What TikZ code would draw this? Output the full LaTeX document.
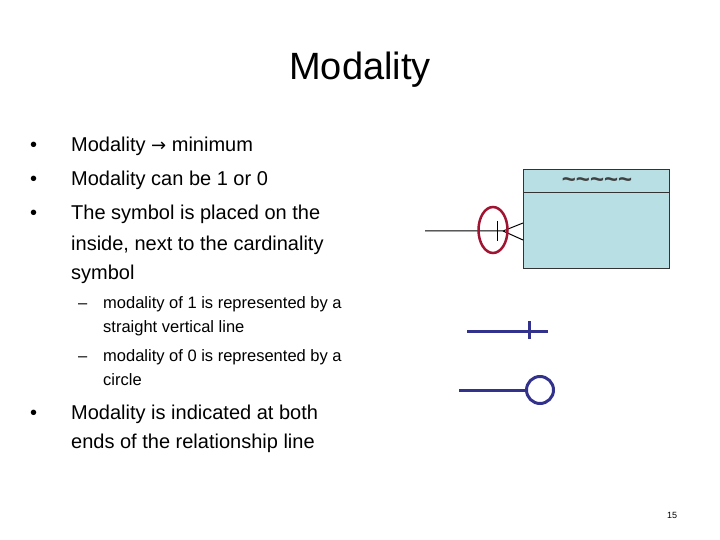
\documentclass[tikz,border=0pt]{standalone}
\usepackage{fontspec}
\setmainfont{Liberation Sans}
\newfontfamily\dejavu{DejaVu Sans}
\usetikzlibrary{shapes.geometric}
\begin{document}
\begin{tikzpicture}[x=1pt,y=-1pt,
  txt/.style={anchor=base west,inner sep=0pt,font=\fontsize{20}{24}\selectfont},
  sub/.style={anchor=base west,inner sep=0pt,font=\fontsize{16.5}{20}\selectfont}]
\useasboundingbox (0,0) rectangle (720,540);
\definecolor{boxfill}{RGB}{184,223,228}
\definecolor{ovalred}{RGB}{160,20,50}
\definecolor{symblue}{RGB}{50,50,140}
\node[anchor=base,inner sep=0pt,font=\fontsize{38}{42}\selectfont] (title) at (360,80) {Modality};
\foreach \y/\t [count=\i] in {152/{Modality {\dejavu\fontsize{18}{20}\selectfont →} minimum},186/{Modality can be 1 or 0},220/{The symbol is placed on the},419/{Modality is indicated at both}}
  {\node[txt] (d\i) at (30,\y) {•};
   \node[txt] (b\i) at (71,\y) {\t};}
\node[txt] (b5) at (71,250) {inside, next to the cardinality};
\node[txt] (b6) at (71,279) {symbol};
\node[txt] (b7) at (71,448) {ends of the relationship line};
\node[sub] (s1a) at (78,308) {–};
\node[sub] (s1) at (103,308) {modality of 1 is represented by a};
\node[sub] (s1b) at (103,332) {straight vertical line};
\node[sub] (s2a) at (78,361) {–};
\node[sub] (s2) at (103,361) {modality of 0 is represented by a};
\node[sub] (s2b) at (103,385) {circle};
\node[anchor=base,inner sep=0pt,font=\fontsize{9}{10}\selectfont] (pg) at (672,518) {15};
% entity box
\node[draw=black!80,fill=boxfill,line width=1pt,minimum width=146pt,minimum height=98pt,inner sep=0pt] (ent) at (596,219) {};
\draw[black!80,line width=1pt] (523,193) -- (669,193);
\node[font=\bfseries\fontsize{24}{26}\selectfont,inner sep=0pt,black!75] (hdr) at (597,183) {\textasciitilde\textasciitilde\textasciitilde\textasciitilde\textasciitilde};
% relationship
\coordinate (rl) at (425,231);
\coordinate (cf) at (503,231);
\coordinate (cf1) at (523,223);
\coordinate (cf2) at (523,240);
\draw[line width=1pt] (rl) -- (cf) -- (cf1) (cf) -- (cf2);
\draw[line width=1pt] (497,221) -- (497,241);
\node[draw=ovalred,line width=2.5pt,ellipse,minimum width=29pt,minimum height=46pt,inner sep=0pt] (ov) at (493,230) {};
% symbols
\coordinate (l1a) at (467,331); \coordinate (l1b) at (548,331);
\draw[draw=symblue,line width=3pt] (l1a) -- (l1b) (529,321) -- (529,339);
\node[circle,draw=symblue,line width=3pt,minimum size=27pt,inner sep=0pt] (c0) at (540,390) {};
\coordinate (l2a) at (459,390);
\draw[draw=symblue,line width=3pt] (l2a) -- (c0.west);
\end{tikzpicture}
\end{document}
